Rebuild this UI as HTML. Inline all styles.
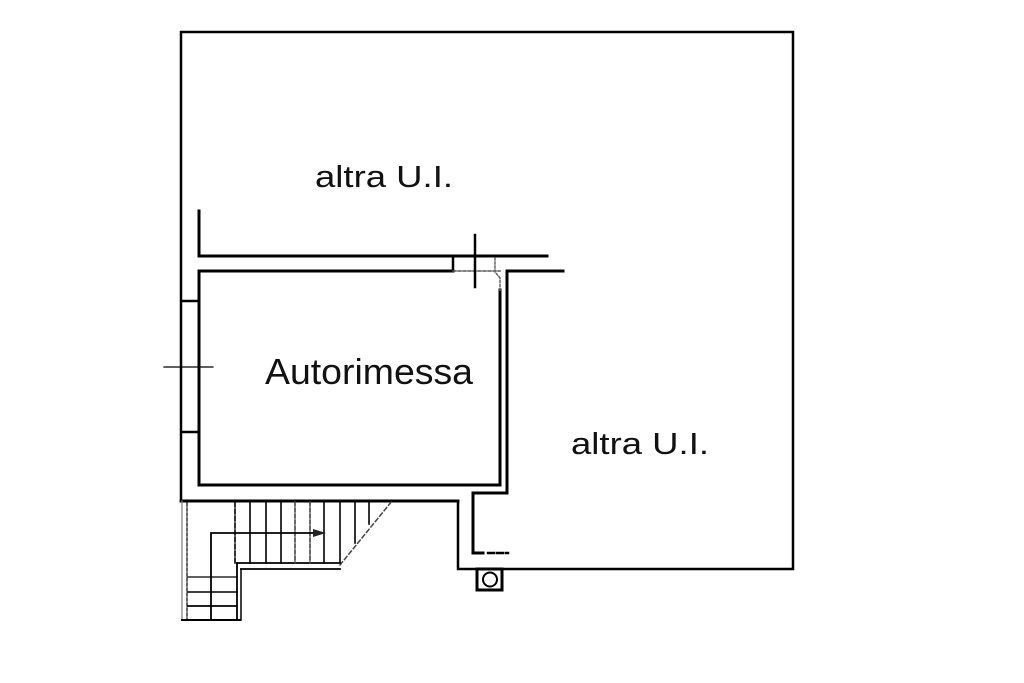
<!DOCTYPE html>
<html>
<head>
<meta charset="utf-8">
<style>
html,body{margin:0;padding:0;background:#fff;}
svg{display:block;}
text{font-family:"Liberation Sans",Arial,sans-serif;fill:#111;}
</style>
</head>
<body>
<svg width="1024" height="683" viewBox="0 0 1024 683" xmlns="http://www.w3.org/2000/svg">
<rect width="1024" height="683" fill="#fff"/>
<g fill="none" stroke="#000" stroke-linecap="square">
  <!-- outer frame -->
  <path d="M181,501 L181,32 L793,32 L793,569 L458,569 L458,501" stroke-width="2.5"/>
  <!-- corridor upper wall -->
  <path d="M199,211 L199,256 L547,256" stroke-width="3"/>
  <!-- Autorimessa inner -->
  <path d="M453,271 L199,271 L199,485 L500,485 L500,290" stroke-width="3"/>
  <line x1="453" y1="256" x2="453" y2="271" stroke-width="2.5"/>
  <path d="M453,271 L500,271" stroke="#555" stroke-width="1.5" stroke-dasharray="3,2"/>
  <path d="M495,258 L495,272 L500,278 L500,292" stroke="#666" stroke-width="1.5" stroke-dasharray="2,2"/>
  <!-- Autorimessa outer right -->
  <path d="M563,271 L507,271 L507,493 L473,493 L473,553 L483,553" stroke-width="3"/>
  <path d="M488,553 L508,553" stroke-width="2.5" stroke-dasharray="6,3"/>
  <!-- left ties -->
  <line x1="182" y1="301" x2="199" y2="301" stroke-width="2.5"/>
  <line x1="182" y1="432" x2="199" y2="432" stroke-width="2.5"/>
  <!-- bottom wall of Autorimessa outer -->
  <line x1="181" y1="501" x2="458" y2="501" stroke-width="3"/>
  <!-- crosses -->
  <line x1="475" y1="235" x2="475" y2="287" stroke-width="2.5"/>
  <line x1="164" y1="367" x2="213" y2="367" stroke-width="1.2"/>
  <!-- stairs -->
  <line x1="182" y1="501" x2="182" y2="620" stroke="#777" stroke-width="1.2"/>
  <line x1="187" y1="503" x2="187" y2="620" stroke="#333" stroke-width="1.5" stroke-dasharray="3,2"/>
  <line x1="182" y1="620" x2="240" y2="620" stroke-width="2"/>
  <line x1="237" y1="563" x2="237" y2="620" stroke-width="1.8"/>
  <line x1="241" y1="569" x2="241" y2="620" stroke-width="1.5"/>
  <line x1="237" y1="563" x2="340" y2="563" stroke-width="1.8"/>
  <line x1="241" y1="569" x2="340" y2="569" stroke-width="1.8"/>
  <line x1="340" y1="565" x2="392" y2="501" stroke="#444" stroke-width="1.5" stroke-dasharray="4,3"/>
  <g stroke-width="1.6">
    <line x1="235" y1="502" x2="235" y2="563" stroke-dasharray="5,2"/>
    <line x1="250" y1="502" x2="250" y2="563"/>
    <line x1="266" y1="502" x2="266" y2="563"/>
    <line x1="281" y1="502" x2="281" y2="563"/>
    <line x1="295" y1="502" x2="295" y2="563" stroke="#444" stroke-dasharray="4,2"/>
    <line x1="310" y1="502" x2="310" y2="563" stroke="#444" stroke-dasharray="4,2"/>
    <line x1="324" y1="502" x2="324" y2="563"/>
    <line x1="340" y1="502" x2="340" y2="563"/>
    <line x1="355" y1="502" x2="355" y2="543"/>
    <line x1="369" y1="502" x2="369" y2="524"/>
  </g>
  <path d="M211,620 L211,533 L318,533" stroke-width="1.8"/>
  <line x1="188" y1="577" x2="237" y2="577" stroke-width="1.3"/>
  <line x1="188" y1="592" x2="237" y2="592" stroke-width="1.6"/>
  <line x1="188" y1="606" x2="237" y2="606" stroke-width="1.8"/>
  <!-- column -->
  <rect x="477" y="569" width="25" height="21" stroke-width="3"/>
  <circle cx="490" cy="579.5" r="7" stroke-width="2"/>
</g>
<polygon points="313,529 326,533 313,537" fill="#222"/>
<text x="315" y="187" font-size="31" textLength="138" lengthAdjust="spacingAndGlyphs">altra U.I.</text>
<text x="265" y="384" font-size="36" textLength="208" lengthAdjust="spacingAndGlyphs">Autorimessa</text>
<text x="571" y="454" font-size="31" textLength="138" lengthAdjust="spacingAndGlyphs">altra U.I.</text>
</svg>
</body>
</html>
